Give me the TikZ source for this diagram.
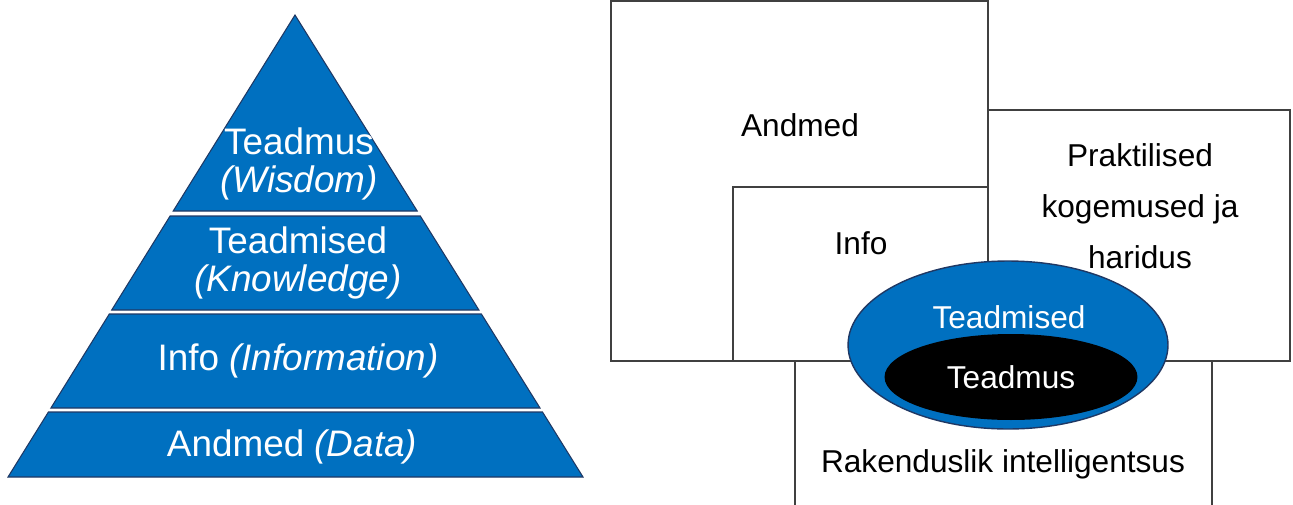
\documentclass[tikz,border=0pt]{standalone}
\usepackage{fontspec}
\setmainfont{Liberation Sans}
\usetikzlibrary{positioning,calc,shapes.geometric}

\definecolor{pyrblue}{HTML}{0070C0}
\definecolor{pyrline}{HTML}{1F3864}
\definecolor{boxline}{HTML}{404040}

\tikzset{
    band/.style={fill=pyrblue, draw=pyrline, line width=0.6pt},
    pyrtext/.style={text=white, font=\fontsize{21}{22}\selectfont, align=center},
    box/.style={draw=boxline, line width=0.9pt, fill=white},
    boxtext/.style={font=\fontsize{18}{29}\selectfont, align=center},
}

\begin{document}
\begin{tikzpicture}[x=0.02cm,y=-0.02cm]
    \useasboundingbox (0,0) rectangle (1293,504);

    % Draw pyramid bands
    \filldraw[band] (295,15) -- (173.2,211) -- (417.2,211) -- cycle;
    \filldraw[band] (170.1,216) -- (111.7,310) -- (478.9,310) -- (420.3,216) -- cycle;
    \filldraw[band] (109.3,314) -- (50.9,408) -- (540.0,408) -- (481.4,314) -- cycle;
    \filldraw[band] (48.4,412) -- (8,477) -- (583,477) -- (542.5,412) -- cycle;

    % Draw pyramid labels
    \node[pyrtext] (wisdom) at (299,164) {Teadmus\\\textit{(Wisdom)}};
    \node[pyrtext] (knowledge) at (298,263) {Teadmised\\\textit{(Knowledge)}};
    \node[pyrtext] (information) at (298,361) {Info \textit{(Information)}};
    \node[pyrtext] (data) at (292,447) {Andmed \textit{(Data)}};

    % Draw boxes
    \draw[box] (611,1) rectangle (988,361);
    \draw[box] (733,187) rectangle (988,361);
    \draw[box] (988,110) rectangle (1290,361);
    \draw[box] (795,361) rectangle (1212,520);

    % Draw box labels
    \node[boxtext] (andmed) at (800,125) {Andmed};
    \node[boxtext] (info) at (861,243) {Info};
    \node[boxtext] (praktika) at (1140,206) {Praktilised\\kogemused ja\\haridus};
    \node[boxtext] (rakendus) at (1003,464) {Rakenduslik intelligentsus};

    % Draw ellipses
    \node[ellipse, fill=pyrblue, draw=pyrline, line width=0.8pt, inner sep=0pt,
          minimum width=6.4cm, minimum height=3.36cm] (outer) at (1008,345) {};
    \node[boxtext, text=white] (teadmised) at (1009,317) {Teadmised};
    \node[ellipse, fill=black, inner sep=0pt, minimum width=5.06cm, minimum height=1.72cm,
          boxtext, text=white] (teadmus) at (1011,377) {Teadmus};
\end{tikzpicture}
\end{document}
